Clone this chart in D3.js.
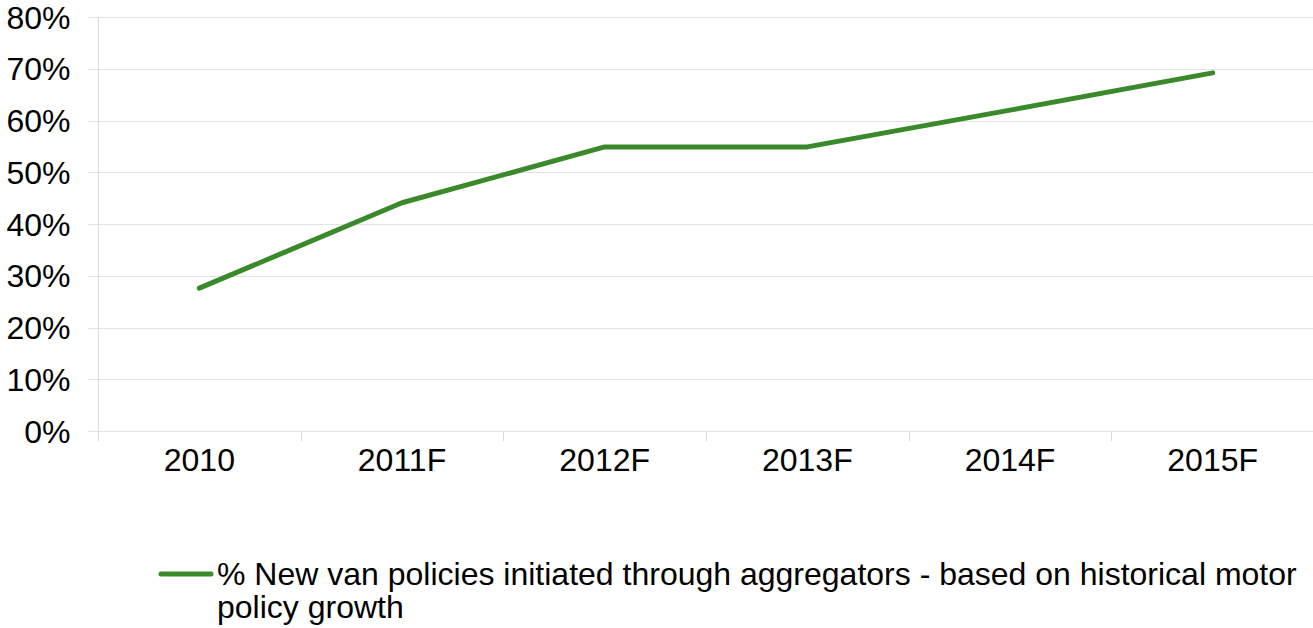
<!DOCTYPE html>
<html>
<head>
<meta charset="utf-8">
<script src="https://cdn.jsdelivr.net/npm/d3@7"></script>
<style>
  html, body { margin: 0; padding: 0; background: #fff; }
  svg { display: block; font-family: "Liberation Sans", Arial, sans-serif; }
</style>
</head>
<body>
<svg id="chart" width="1313" height="628"></svg>
<script>
// Share of new van policies sold via aggregators, actual and forecast
const categories = ["2010", "2011F", "2012F", "2013F", "2014F", "2015F"];
const shareValues = [0.276, 0.441, 0.549, 0.549, 0.62, 0.692];
const yTicks = [0, 0.1, 0.2, 0.3, 0.4, 0.5, 0.6, 0.7, 0.8];
const seriesName = "% New van policies initiated through aggregators - based on historical motor";
const seriesNameCont = "policy growth";

const svg = d3.select("#chart");
const margin = { left: 98, top: 17, bottom: 431 };
const plotRight = 1314;
const fontSize = 32;

const x = d3.scaleBand().domain(categories).range([margin.left, plotRight]);
const y = d3.scaleLinear().domain([0, 0.8]).range([margin.bottom, margin.top]);

const gridColor = "#e3e3e3";
const axisColor = "#d9d9d9";
const lineColor = "#3a8a2b";

// Horizontal gridlines
svg.append("g")
  .selectAll("line")
  .data(yTicks)
  .join("line")
  .attr("x1", margin.left - 10)
  .attr("x2", plotRight)
  .attr("y1", d => Math.round(y(d)) + 0.5)
  .attr("y2", d => Math.round(y(d)) + 0.5)
  .attr("stroke", gridColor)
  .attr("stroke-width", 1);

// Y axis
const yAxis = d3.axisLeft(y)
  .tickValues(yTicks)
  .tickFormat(d3.format(".0%"))
  .tickSize(0)
  .tickPadding(28);

const yg = svg.append("g")
  .attr("transform", `translate(${margin.left + 0.5},0)`)
  .call(yAxis);
yg.select(".domain").attr("stroke", axisColor).attr("d", `M0,${margin.top}V${margin.bottom}`);
yg.selectAll("text")
  .attr("font-size", fontSize)
  .attr("fill", "#000")
  .attr("dy", "0.35em")
  .attr("font-family", "Liberation Sans, Arial, sans-serif");

// X axis: ticks on category boundaries
const boundaries = categories.map(c => x(c)).concat([plotRight]);
svg.append("g")
  .selectAll("line")
  .data(boundaries)
  .join("line")
  .attr("x1", d => Math.round(d) + 0.5)
  .attr("x2", d => Math.round(d) + 0.5)
  .attr("y1", margin.bottom)
  .attr("y2", margin.bottom + 10)
  .attr("stroke", axisColor);

svg.append("g")
  .selectAll("text")
  .data(categories)
  .join("text")
  .attr("x", d => x(d) + x.bandwidth() / 2)
  .attr("y", margin.bottom + 40)
  .attr("text-anchor", "middle")
  .attr("font-size", fontSize)
  .attr("fill", "#000")
  .text(d => d);

// Series line
const line = d3.line()
  .x((d, i) => x(categories[i]) + x.bandwidth() / 2)
  .y(d => y(d));

svg.append("path")
  .datum(shareValues)
  .attr("d", line)
  .attr("fill", "none")
  .attr("stroke", lineColor)
  .attr("stroke-width", 5)
  .attr("stroke-linecap", "round")
  .attr("stroke-linejoin", "round");

// Legend
const legend = svg.append("g");
legend.append("line")
  .attr("x1", 161).attr("x2", 211)
  .attr("y1", 574).attr("y2", 574)
  .attr("stroke", lineColor)
  .attr("stroke-width", 5)
  .attr("stroke-linecap", "round");
legend.append("text")
  .attr("x", 217).attr("y", 585)
  .attr("font-size", fontSize)
  .attr("fill", "#000")
  .text(seriesName);
legend.append("text")
  .attr("x", 217).attr("y", 618)
  .attr("font-size", fontSize)
  .attr("fill", "#000")
  .text(seriesNameCont);
</script>
</body>
</html>
